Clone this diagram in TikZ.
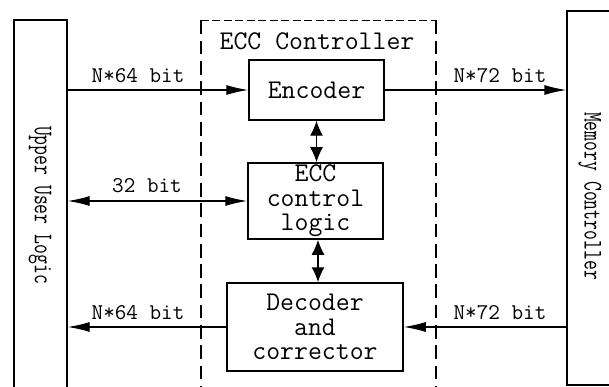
\documentclass[tikz,border=0pt]{standalone}
\usetikzlibrary{arrows.meta}
\begin{document}
\begin{tikzpicture}[x=1pt,y=-1pt,
  blk/.style={draw, line width=1.5pt, font=\ttfamily\fontsize{27}{24.5}\selectfont, align=center, inner sep=0pt},
  side/.style={draw, line width=1.3pt, inner sep=0pt},
  ctrlbox/.style={inner sep=0pt},
  vdash/.style={line width=1.4pt, dash pattern=on 13.7pt off 6.6pt},
  hdash/.style={line width=1.4pt, dash pattern=on 8pt off 3.5pt},
  lbl/.style={font=\ttfamily\fontsize{22.5}{22}\selectfont, inner sep=0pt},
  ttl/.style={font=\ttfamily\fontsize{27}{24}\selectfont, inner sep=0pt},
  vlbl/.style={font=\ttfamily\fontsize{27}{28}\selectfont, rotate=-90, inner sep=0pt},
  conn/.style={line width=1.3pt},
  harr/.style={-{Latex[length=22pt,width=10pt]}},
  hdarr/.style={{Latex[length=22pt,width=10pt]}-{Latex[length=22pt,width=10pt]}},
  vdarr/.style={{Latex[length=15pt,width=13pt]}-{Latex[length=15pt,width=13pt]}}
]
\useasboundingbox (0,0) rectangle (609,387);
\clip (0,0) rectangle (609,387);

% side boxes
\node[side, minimum width=53pt, minimum height=380pt] (ul) at (40.5,210) {};
\node[vlbl] (ultext) at (40,205) {\scalebox{0.71}[1]{Upper User Logic}};
\node[side, minimum width=83pt, minimum height=374pt] (mc) at (608.5,198) {};
\node[vlbl] (mctext) at (590,196) {\scalebox{0.71}[1]{Memory Controller}};

% controller dashed box
\node[ctrlbox, minimum width=234.7pt, minimum height=379.3pt] (ctrl) at (318.35,210.35) {};
\draw[hdash] (ctrl.north west) -- (ctrl.north east);
\draw[vdash] (ctrl.north west) -- (ctrl.south west);
\draw[vdash] (ctrl.north east) -- (ctrl.south east);
\node[ttl] (ctrltitle) at (317,41) {ECC Controller};

% blocks
\node[blk, minimum width=135pt, minimum height=60pt] (enc) at (316.5,90) {Encoder};
\node[blk, minimum width=135pt, minimum height=76pt] (ecc) at (315.5,201) {ECC\\control\\logic};
\node[blk, minimum width=176pt, minimum height=88pt] (dec) at (315,327) {Decoder\\and\\corrector};

% connectors
\draw[conn,harr] (ul.east |- enc.west) -- (enc.west);
\draw[conn,harr] (enc.east) -- (enc.east -| mc.west);
\draw[conn,hdarr] (ul.east |- ecc.west) -- (ecc.west);
\draw[conn,harr] (dec.west) -- (dec.west -| ul.east);
\draw[conn,harr] (mc.west |- dec.east) -- (dec.east);
\draw[conn,vdarr] (enc.south) -- (enc.south |- ecc.north);
\draw[conn,vdarr] ([xshift=2.5pt]ecc.south) -- ([xshift=2.5pt]ecc.south |- dec.north);

% labels
\node[lbl] (l1) at (138,76) {N*64 bit};
\node[lbl] (l2) at (500,76) {N*72 bit};
\node[lbl] (l3) at (147,186) {32 bit};
\node[lbl] (l4) at (138,313) {N*64 bit};
\node[lbl] (l5) at (500,313) {N*72 bit};
\end{tikzpicture}
\end{document}
